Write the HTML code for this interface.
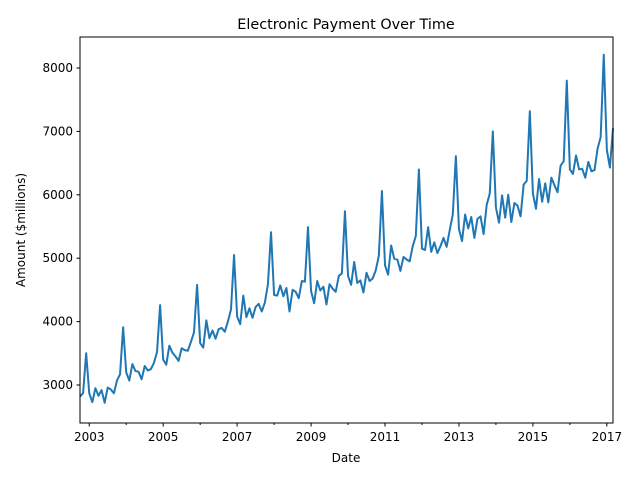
<!DOCTYPE html>
<html><head><meta charset="utf-8"><style>
html,body{margin:0;padding:0;background:#fff;}
svg{display:block;font-family:"DejaVu Sans","Liberation Sans",sans-serif;}
</style></head><body>
<svg id="chart" width="640" height="480" viewBox="0 0 640 480">
<rect width="640" height="480" fill="#fff"/>
<text x="346" y="29" text-anchor="middle" font-size="14.4" fill="#000">Electronic Payment Over Time</text>
<text x="346" y="462" text-anchor="middle" font-size="12" fill="#000">Date</text>
<text transform="translate(25,230) rotate(-90)" text-anchor="middle" font-size="12" fill="#000">Amount ($millions)</text>
<g id="grid"></g>
<path id="line" fill="none" stroke="#1f77b4" stroke-width="2" stroke-linejoin="round"/>
<rect x="80" y="37" width="533" height="386" fill="none" stroke="#000" stroke-width="1"/>
</svg>
<script>
const startYear = 2002;
const startMonth = 10;
const values2002 = [2820, 2870, 3500];
const values2003 = [2870, 2730, 2950, 2830, 2920, 2720, 2960, 2930, 2870, 3070, 3170, 3910];
const values2004 = [3200, 3070, 3330, 3220, 3210, 3090, 3300, 3230, 3250, 3350, 3520, 4260];
const values2005 = [3400, 3320, 3620, 3510, 3450, 3380, 3580, 3550, 3540, 3680, 3830, 4580];
const values2006 = [3660, 3590, 4020, 3740, 3860, 3730, 3880, 3900, 3840, 4000, 4190, 5050];
const values2007 = [4080, 3960, 4410, 4070, 4210, 4060, 4230, 4280, 4160, 4300, 4590, 5410];
const values2008 = [4420, 4410, 4570, 4400, 4530, 4160, 4500, 4470, 4370, 4640, 4630, 5490];
const values2009 = [4480, 4290, 4640, 4490, 4550, 4270, 4590, 4520, 4470, 4720, 4760, 5740];
const values2010 = [4720, 4580, 4940, 4610, 4650, 4460, 4770, 4640, 4680, 4810, 5040, 6060];
const values2011 = [4890, 4740, 5200, 4990, 4980, 4800, 5020, 4980, 4950, 5190, 5350, 6400];
const values2012 = [5150, 5130, 5490, 5100, 5250, 5080, 5190, 5320, 5180, 5440, 5690, 6610];
const values2013 = [5460, 5270, 5690, 5470, 5650, 5320, 5620, 5660, 5380, 5840, 6020, 7000];
const values2014 = [5800, 5560, 5990, 5640, 6000, 5570, 5870, 5830, 5660, 6160, 6220, 7320];
const values2015 = [6020, 5780, 6250, 5890, 6180, 5880, 6270, 6150, 6040, 6460, 6530, 7800];
const values2016 = [6400, 6330, 6620, 6400, 6410, 6270, 6520, 6370, 6390, 6730, 6910, 8210];
const values2017 = [6710, 6430, 7050];
const xTickLabels = ["2003","2005","2007","2009","2011","2013","2015","2017"];
const yTickLabels = ["3000","4000","5000","6000","7000","8000"];

const values = [].concat(values2002, values2003, values2004, values2005, values2006, values2007, values2008, values2009, values2010, values2011, values2012, values2013, values2014, values2015, values2016, values2017);
const L=80,R=613,T=37,B=423;
const xMin=2002.75, xMax=2017+2/12;
function xs(t){return L+(t-xMin)/(xMax-xMin)*(R-L);}
function ys(v){return 385+(3000-v)*(385-68)/5000;}
const NS="http://www.w3.org/2000/svg";
const g=document.getElementById('grid');
let d='';
values.forEach((v,i)=>{
  const t=startYear+(startMonth-1+i)/12;
  d+=(i?'L':'M')+xs(t).toFixed(2)+','+ys(v).toFixed(2);
});
document.getElementById('line').setAttribute('d',d);
xTickLabels.forEach(lbl=>{
  const x=xs(+lbl);
  const tk=document.createElementNS(NS,'line');
  tk.setAttribute('x1',x);tk.setAttribute('x2',x);tk.setAttribute('y1',B);tk.setAttribute('y2',B+3.5);
  tk.setAttribute('stroke','#000');
  
  
  g.appendChild(tk);
  const tx=document.createElementNS(NS,'text');
  tx.setAttribute('x',x);tx.setAttribute('y',B+18);tx.setAttribute('text-anchor','middle');tx.setAttribute('font-size','12');
  tx.textContent=lbl;
  
  
  g.appendChild(tx);
  const mx=xs(+lbl+1);
  if(mx<R){
    const mt=document.createElementNS(NS,'line');
    mt.setAttribute('x1',mx);mt.setAttribute('x2',mx);mt.setAttribute('y1',B);mt.setAttribute('y2',B+2);
    mt.setAttribute('stroke','#000');
    
    
    g.appendChild(mt);
  }
});
yTickLabels.forEach(lbl=>{
  const y=ys(+lbl);
  const tk=document.createElementNS(NS,'line');
  tk.setAttribute('x1',L-3.5);tk.setAttribute('x2',L);tk.setAttribute('y1',y);tk.setAttribute('y2',y);
  tk.setAttribute('stroke','#000');
  
  
  g.appendChild(tk);
  const tx=document.createElementNS(NS,'text');
  tx.setAttribute('x',L-7);tx.setAttribute('y',y+4);tx.setAttribute('text-anchor','end');tx.setAttribute('font-size','12');
  tx.textContent=lbl;
  
  
  g.appendChild(tx);
});
</script>
</body></html>
